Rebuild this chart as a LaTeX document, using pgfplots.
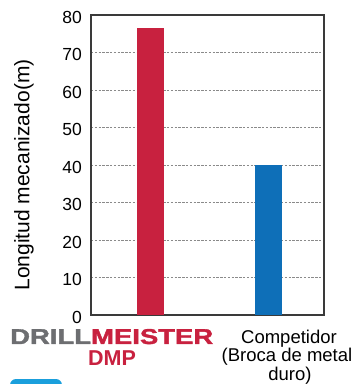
\documentclass[border=0pt]{standalone}
\usepackage{fontspec}
\setmainfont{Liberation Sans}
\newfontfamily\logofont[FakeBold=1.6]{Liberation Sans Bold}
\usepackage{graphicx}
\usepackage{pgfplots}
\pgfplotsset{compat=1.18}

\definecolor{dmpred}{HTML}{C8213F}
\definecolor{compblue}{HTML}{0E6FB8}
\definecolor{drillgray}{HTML}{6D6E71}
\definecolor{gridgray}{HTML}{8A8A8A}
\definecolor{framegray}{HTML}{3A3A3A}
\definecolor{buttonblue}{HTML}{1A9FDC}

\begin{document}
\begin{tikzpicture}[x=1pt,y=1pt]
\useasboundingbox (0,0) rectangle (354,384);
\begin{axis}[
    at={(91pt,69pt)}, anchor=south west,
    width=233pt, height=300pt, scale only axis,
    xmin=-0.504, xmax=1.47,
    ymin=0, ymax=80,
    xtick=\empty,
    ytick={0,10,...,80},
    ymajorgrids,
    major grid style={gridgray, line width=0.9pt, dash pattern=on 2.4pt off 1.4pt},
    axis line style={framegray, line width=1.1pt},
    major tick length=0pt,
    /pgf/number format/assume math mode=true,
    yticklabel style={font=\fontsize{17.5}{20}\selectfont, inner sep=0pt, xshift=-9pt, yshift=-2pt},
    ybar, bar width=27pt, bar shift=0pt,
]
\addplot[fill=dmpred, draw=none] coordinates {(0,76.5)};
\addplot[fill=compblue, draw=none] coordinates {(1,40)};
\end{axis}

% y-axis title
\node[rotate=90, font=\fontsize{21}{24}\selectfont] at (24,209) {Longitud mecanizado(m)};

% category labels
\node[anchor=base west, inner sep=0pt] at (10,40)
  {\resizebox{203pt}{15pt}{\logofont\textcolor{drillgray}{DRILL}\textcolor{dmpred}{MEISTER}}};
\node[anchor=base, inner sep=0pt, text=dmpred, font=\bfseries\fontsize{21.5}{24}\selectfont] at (112,18) {DMP};

\node[anchor=base, inner sep=0pt, font=\fontsize{18.5}{22}\selectfont] at (289,41) {Competidor};
\node[anchor=base, inner sep=0pt, font=\fontsize{18.5}{22}\selectfont] at (287,22.5) {(Broca de metal};
\node[anchor=base, inner sep=0pt, font=\fontsize{18.5}{22}\selectfont] at (290,4) {duro)};

% button edge at the bottom
\fill[buttonblue, rounded corners=6pt] (10,-12) rectangle (62,5);
\end{tikzpicture}
\end{document}
